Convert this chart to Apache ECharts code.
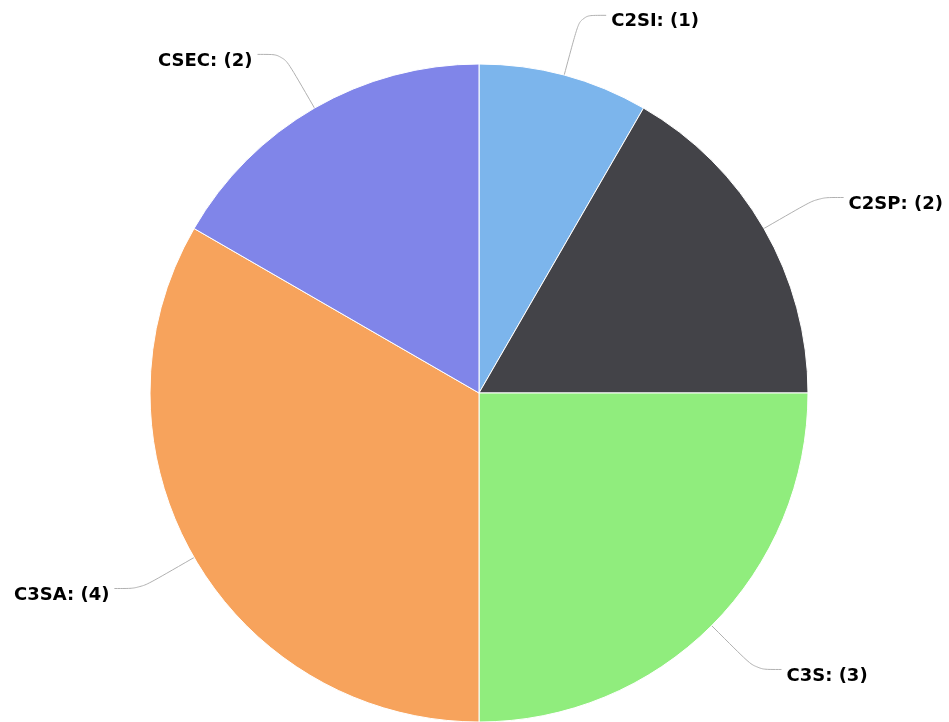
<!DOCTYPE html>
<html>
<head>
<meta charset="utf-8">
<script src="https://cdn.jsdelivr.net/npm/echarts@6/dist/echarts.min.js"></script>
<style>
  html, body { margin: 0; padding: 0; background: #fff; }
  #pieChart { width: 949px; height: 722px; }
</style>
</head>
<body>
<div id="pieChart"></div>
<script>
// 分类与数值
var categories = ['C2SI', 'C2SP', 'C3S', 'C3SA', 'CSEC'];
var values = [1, 2, 3, 4, 2];
var colors = ['#7cb5ec', '#434348', '#90ed7d', '#f7a35c', '#8085e9'];

var pieData = categories.map(function (name, i) {
  return { name: name, value: values[i], itemStyle: { color: colors[i] } };
});

var chart = echarts.init(document.getElementById('pieChart'));
chart.setOption({
  animation: false,
  series: [{
    type: 'pie',
    center: [479, 393],
    radius: 329,
    startAngle: 90,
    clockwise: true,
    avoidLabelOverlap: false,
    itemStyle: { borderColor: '#fff', borderWidth: 1 },
    label: {
      show: true,
      position: 'outside',
      formatter: function (p) {
        return '{t|' + p.name + ': (' + p.value + ')}';
      },
      rich: {
        t: {
          color: '#000',
          fontFamily: 'DejaVu Sans',
          fontWeight: 'bold',
          fontSize: 18,
          padding: [13, 0, 0, 0]
        }
      }
    },
    labelLine: {
      show: true,
      length: 62,
      length2: 26,
      smooth: 0.3,
      lineStyle: { color: '#b0b0b0', width: 1 }
    },
    data: pieData
  }]
});
window.onresize = chart.resize;
</script>
</body>
</html>
